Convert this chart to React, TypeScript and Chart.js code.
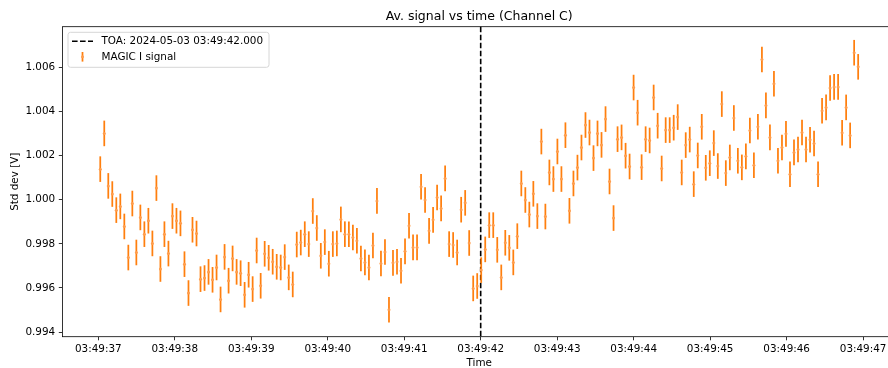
import React, { useEffect, useRef } from "react";
import { Chart, registerables } from "chart.js";

Chart.register(...registerables);

const TITLE = "Av. signal vs time (Channel C)";
const X_LABEL = "Time";
const Y_LABEL = "Std dev [V]";
const SERIES_LABEL = "MAGIC I signal";
const TOA_LABEL = "TOA: 2024-05-03 03:49:42.000";

// seconds after 03:49:00
const TOA_SEC = 42.0;
const T_START = 37.026;
const T_STEP = 0.05243;

const SIGNAL = [
  1.00139, 1.00301, 1.00063, 1.00026, 0.99953, 0.9997, 0.99879, 0.99738, 0.99983, 0.99761,
  0.9992, 0.99844, 0.99905, 0.99802, 1.00053, 0.99686, 0.99844, 0.99756, 0.99926, 0.99905,
  0.99893, 0.99708, 0.99577, 0.99864, 0.99847, 0.9964, 0.99645, 0.99673, 0.99637, 0.99693,
  0.99548, 0.99741, 0.99633, 0.99734, 0.99673, 0.99667, 0.99569, 0.9966, 0.99595, 0.9977,
  0.9961, 0.99755, 0.99737, 0.99719, 0.99696, 0.99693, 0.9974, 0.99648, 0.99616, 0.99797,
  0.99806, 0.99844, 0.99799, 0.99949, 0.99872, 0.99746, 0.99808, 0.9971, 0.99799, 0.99802,
  0.99911, 0.99844, 0.99844, 0.99829, 0.99814, 0.99734, 0.99716, 0.99693, 0.99793, 0.99995,
  0.99711, 0.99763, 0.99501, 0.99714, 0.99719, 0.99678, 0.99766, 0.99882, 0.99784, 0.99784,
  1.00059, 0.99999, 0.99859, 0.99909, 1.0001, 0.99961, 1.00097, 0.99799, 0.99795, 0.99761,
  0.99955, 0.99986, 0.99804, 0.99598, 0.99609, 0.99681, 0.99775, 0.99885, 0.99885, 0.99773,
  0.99648, 0.99805, 0.99782, 0.99716, 0.99835, 1.00074, 0.99999, 0.99933, 1.00027, 0.99926,
  1.00264, 0.99924, 1.00124, 1.00094, 1.00219, 1.00094, 1.00293, 0.9995, 1.00074, 1.00146,
  1.00237, 1.00339, 1.00305, 1.00189, 1.00301, 1.00249, 1.00366, 1.00083, 0.99917, 1.00275,
  1.00283, 1.002, 1.00151, 1.00509, 1.00395, 1.00148, 1.00275, 1.00269, 1.00464, 1.00336,
  1.00142, 1.00316, 1.00316, 1.00327, 1.00375, 1.00124, 1.00248, 1.00273, 1.00071, 1.00201,
  1.00331, 1.00145, 1.00166, 1.00257, 1.00153, 1.00434, 1.00121, 1.00192, 1.00371, 1.00177,
  1.00147, 1.00197, 1.00314, 1.00157, 1.00331, 1.00636, 1.00428, 1.00283, 1.00526, 1.00177,
  1.00237, 1.00299, 1.00116, 1.00215, 1.00228, 1.00305, 1.00228, 1.00272, 1.00255, 1.00116,
  1.00404, 1.00419, 1.00507, 1.00512, 1.00512, 1.00304, 1.00419, 1.00292, 1.00667, 1.00603,
];
const SIGNAL_ERR = 0.00058;

const TIMES = SIGNAL.map((_, i) => T_START + i * T_STEP);

const X_TICKS = [37, 38, 39, 40, 41, 42, 43, 44, 45, 46, 47];
const X_TICK_LABELS = [
  "03:49:37", "03:49:38", "03:49:39", "03:49:40", "03:49:41", "03:49:42",
  "03:49:43", "03:49:44", "03:49:45", "03:49:46", "03:49:47",
];
const Y_TICKS = [0.994, 0.996, 0.998, 1.0, 1.002, 1.004, 1.006];
const Y_TICK_LABELS = ["0.994", "0.996", "0.998", "1.000", "1.002", "1.004", "1.006"];

const X_MIN = 36.531;
const X_MAX = 47.43;
const Y_MIN = 0.99379;
const Y_MAX = 1.00785;

const ORANGE = "#ff7f0e";
const FONT = '"DejaVu Sans", sans-serif';

const decorPlugin = {
  id: "decor",
  beforeDatasetsDraw(chart: any) {
    const { ctx, chartArea, scales } = chart;
    const xs = scales.x;
    const ys = scales.y;
    ctx.save();
    // TOA vertical line
    const tx = xs.getPixelForValue(TOA_SEC);
    ctx.strokeStyle = "#000";
    ctx.lineWidth = 1.6;
    ctx.setLineDash([5.6, 2.4]);
    ctx.beginPath();
    ctx.moveTo(tx, chartArea.top);
    ctx.lineTo(tx, chartArea.bottom);
    ctx.stroke();
    ctx.setLineDash([]);
    // error bars
    ctx.strokeStyle = ORANGE;
    ctx.lineWidth = 1.75;
    for (let i = 0; i < SIGNAL.length; i++) {
      const px = xs.getPixelForValue(TIMES[i]);
      const y1 = ys.getPixelForValue(SIGNAL[i] - SIGNAL_ERR);
      const y2 = ys.getPixelForValue(SIGNAL[i] + SIGNAL_ERR);
      ctx.beginPath();
      ctx.moveTo(px, y1);
      ctx.lineTo(px, y2);
      ctx.stroke();
    }
    ctx.restore();
  },
  afterDraw(chart: any) {
    const { ctx, chartArea } = chart;
    ctx.save();
    // frame
    ctx.strokeStyle = "#000";
    ctx.lineWidth = 0.8;
    ctx.strokeRect(chartArea.left, chartArea.top, chartArea.right - chartArea.left, chartArea.bottom - chartArea.top);
    // title
    ctx.fillStyle = "#000";
    ctx.font = `12.5px ${FONT}`;
    ctx.textAlign = "center";
    ctx.textBaseline = "alphabetic";
    ctx.fillText(TITLE, (chartArea.left + chartArea.right) / 2, 19.8);
    // legend
    const lx = chartArea.left + 5.6;
    const ly = chartArea.top + 5.6;
    const lw = 201;
    const lh = 35;
    ctx.beginPath();
    ctx.roundRect(lx, ly, lw, lh, 2.5);
    ctx.fillStyle = "rgba(255,255,255,0.8)";
    ctx.fill();
    ctx.strokeStyle = "#d6d6d6";
    ctx.lineWidth = 1;
    ctx.stroke();
    const r1 = ly + 9;
    const r2 = ly + 24.5;
    const hx0 = lx + 4;
    const hx1 = lx + 25;
    ctx.strokeStyle = "#000";
    ctx.lineWidth = 1.6;
    ctx.setLineDash([5.6, 2.4]);
    ctx.beginPath();
    ctx.moveTo(hx0, r1);
    ctx.lineTo(hx1, r1);
    ctx.stroke();
    ctx.setLineDash([]);
    const hc = (hx0 + hx1) / 2;
    ctx.strokeStyle = ORANGE;
    ctx.lineWidth = 1.75;
    ctx.beginPath();
    ctx.moveTo(hc, r2 - 4.8);
    ctx.lineTo(hc, r2 + 4.8);
    ctx.stroke();
    ctx.fillStyle = "#ff9d4d";
    ctx.beginPath();
    ctx.arc(hc, r2, 1.5, 0, Math.PI * 2);
    ctx.fill();
    ctx.fillStyle = "#000";
    ctx.font = `10.4px ${FONT}`;
    ctx.textAlign = "left";
    ctx.textBaseline = "middle";
    ctx.fillText(TOA_LABEL, lx + 33.5, r1);
    ctx.fillText(SERIES_LABEL, lx + 33.5, r2);
    ctx.restore();
  },
};

export default function App() {
  const canvasRef = useRef<HTMLCanvasElement | null>(null);

  useEffect(() => {
    document.body.style.margin = "0";
    const canvas = canvasRef.current;
    if (!canvas) return;
    const tickFont = { family: FONT, size: 10.4 };
    const chart = new Chart(canvas, {
      type: "scatter",
      data: {
        datasets: [
          {
            label: SERIES_LABEL,
            data: TIMES.map((t, i) => ({ x: t, y: SIGNAL[i] })),
            pointRadius: 1.5,
            pointBackgroundColor: "#ff9d4d",
            pointBorderWidth: 0,
            pointHoverRadius: 1.5,
            showLine: false,
          },
        ],
      },
      options: {
        responsive: false,
        animation: false,
        devicePixelRatio: 1,
        events: [],
        layout: { padding: { top: 26.7, right: 4, left: 0, bottom: 0 } },
        plugins: {
          legend: { display: false },
          tooltip: { enabled: false },
          title: { display: false },
        },
        scales: {
          x: {
            type: "linear",
            min: X_MIN,
            max: X_MAX,
            afterBuildTicks: (s: any) => {
              s.ticks = X_TICKS.map((v) => ({ value: v }));
            },
            afterFit: (s: any) => {
              s.height = 31.3;
              s.paddingLeft = 0;
              s.paddingRight = 0;
            },
            ticks: {
              callback: (_v: any, i: number) => X_TICK_LABELS[i],
              maxRotation: 0,
              autoSkip: false,
              font: tickFont,
              color: "#000",
              padding: 3,
            },
            grid: {
              drawOnChartArea: false,
              drawTicks: true,
              tickLength: 3.6,
              color: "#000",
              lineWidth: 0.8,
            },
            border: { display: false },
            title: {
              display: true,
              text: X_LABEL,
              color: "#000",
              font: { family: FONT, size: 10.4, lineHeight: 1 },
              padding: { top: 0, bottom: 0 },
            },
          },
          y: {
            type: "linear",
            min: Y_MIN,
            max: Y_MAX,
            afterBuildTicks: (s: any) => {
              s.ticks = Y_TICKS.map((v) => ({ value: v }));
            },
            afterFit: (s: any) => {
              s.width = 62.4;
              s.paddingTop = 0;
              s.paddingBottom = 0;
            },
            ticks: {
              callback: (_v: any, i: number) => Y_TICK_LABELS[i],
              autoSkip: false,
              font: tickFont,
              color: "#000",
              padding: 3.6,
            },
            grid: {
              drawOnChartArea: false,
              drawTicks: true,
              tickLength: 3.6,
              color: "#000",
              lineWidth: 0.8,
            },
            border: { display: false },
            title: {
              display: true,
              text: Y_LABEL,
              color: "#000",
              font: { family: FONT, size: 10.4, lineHeight: 1.2 },
              padding: { top: 9, bottom: 0 },
            },
          },
        },
      },
      plugins: [decorPlugin],
    } as any);
    return () => chart.destroy();
  }, []);

  return (
    <div style={{ width: 888, height: 368, overflow: "hidden", position: "relative" }}>
      <canvas ref={canvasRef} width={900} height={368} style={{ display: "block" }} />
    </div>
  );
}
